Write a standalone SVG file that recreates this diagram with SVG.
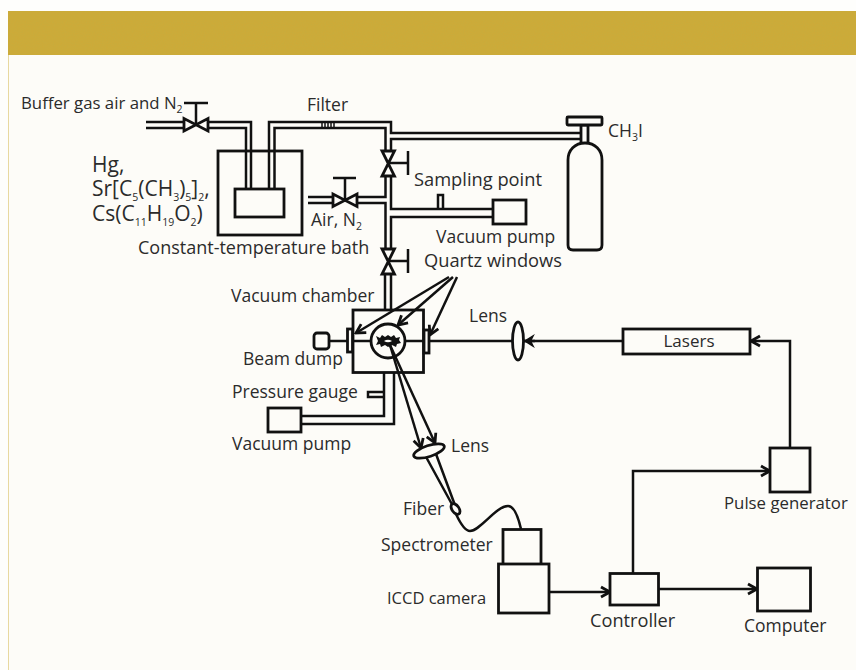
<svg xmlns="http://www.w3.org/2000/svg" width="856" height="670" viewBox="0 0 856 670">
<defs>
<style>
.l{fill:none;stroke:#111;stroke-width:2.500;stroke-linejoin:miter}
.b{fill:#fdfcf8;stroke:#111;stroke-width:2.800}
.t{font-family:"Open Sans","Noto Sans","Liberation Sans",sans-serif;font-size:17.500px;fill:#2b2b2b}
.big{font-size:21px}
.s{font-size:10.500px}
</style>
<filter id="grain" x="0" y="0" width="100%" height="100%"><feTurbulence type="fractalNoise" baseFrequency="0.9" numOctaves="2" seed="4"/><feColorMatrix values="0 0 0 0 0.55  0 0 0 0 0.42  0 0 0 0 0.05  0.9 0 0 0 -0.25"/></filter>
<marker id="a" markerUnits="userSpaceOnUse" viewBox="-11 -7 13 14" refX="0" refY="0" markerWidth="13" markerHeight="14" orient="auto"><path d="M-9,-5 L0,0 L-9,5" fill="none" stroke="#111" stroke-width="2.800"/></marker>
<marker id="f" markerUnits="userSpaceOnUse" viewBox="-11 -7 13 14" refX="0" refY="0" markerWidth="13" markerHeight="14" orient="auto"><path d="M-9,-5 L-1,0 L-9,5 L-6.500,0 Z" fill="#111" stroke="#111" stroke-width="1.500"/></marker>
</defs>
<rect width="856" height="670" fill="#fefefc"/>
<rect x="8" y="55" width="848" height="615" fill="#fdfcf8"/>
<rect x="8" y="55" width="1" height="615" fill="#e8d9a0"/>
<g id="header"><rect x="8" y="11" width="848" height="44" fill="#cdaa38"/><rect x="8" y="11" width="848" height="44" filter="url(#grain)"/></g>
<g id="connectors">
<path class="l" d="M146,122H184M208,122H251V189M146,128H184M208,128H246V189"/>
<path class="l" d="M269,189V122H391V133H580M274.500,189V128H385.500V151M391,151V139H580"/>
<path class="l" d="M308,197H333M357,197H385.500V176M308,203H333M357,203H385.500V249M391,176V209H493M391,249V217H493"/>
<path class="l" d="M385,274V310M391,274V310"/>
<path class="l" d="M384,373V416H301M394,373V424H301"/>
<path class="l" d="M384,392H368V397H384"/>
<path class="l" d="M438,209V195H443V209"/>
<path class="l" d="M330,341H371M405,341H622"/>
<path class="l" marker-end="url(#f)" d="M535,341H524"/>
<path class="l" marker-end="url(#a)" d="M449,277L356,333"/>
<path class="l" marker-end="url(#a)" d="M453,277L398,325"/>
<path class="l" marker-end="url(#a)" d="M457,277L430,335"/>
<path class="l" d="M456,514C462,527 466,531 470,531C480,531 496,506 508,506C514,506 518,516 521,529"/>
<path class="l" marker-end="url(#a)" d="M549,592H610"/>
<path class="l" marker-end="url(#a)" d="M633,573V471H770"/>
<path class="l" marker-end="url(#a)" d="M658,589H757"/>
<path class="l" marker-end="url(#a)" d="M790,448V341H751"/>
</g>
<g id="valve-buffer">
<path class="l" d="M196,125V103M184,103H208"/>
<path class="b" d="M184,118.500V131L208,118.500V131Z"/>
</g>
<g id="valve-air">
<path class="l" d="M345,200V178M333,178H356"/>
<path class="b" d="M333,194V206.500L357,194V206.500Z"/>
</g>
<g id="valve-sampling">
<path class="l" d="M388,163H408M408,151V175"/>
<path class="b" d="M382,151H394.500L382,176H394.500Z"/>
</g>
<g id="valve-chamber">
<path class="l" d="M388,261H408M408,249V273"/>
<path class="b" d="M382,249H394.500L382,274H394.500Z"/>
</g>
<g id="filter"><path class="l" d="M320,122H336M320,128H336M322,122V128M325,122V128M328,122V128M331,122V128M334,122V128" style="stroke-width:1.500"/></g>
<g id="bath">
<rect class="l" style="stroke-width:2.800" x="218" y="151" width="84" height="84"/>
<rect class="l" style="stroke-width:2.800" x="235" y="189" width="49" height="28"/>
</g>
<g id="cylinder">
<rect class="b" x="581" y="125" width="7" height="19"/>
<rect class="b" x="567" y="117" width="35" height="8" rx="1"/>
<path class="b" d="M568,160C568,150 575,143 585,143C595,143 602,150 602,160V245Q602,250 597,250H573Q568,250 568,245Z"/>
</g>
<g id="pump-top"><rect class="b" x="493" y="200" width="33" height="24"/></g>
<g id="chamber">
<rect class="l" style="stroke-width:2.800" x="353" y="310" width="70.500" height="62.500"/>
<rect class="b" x="347.500" y="329" width="5" height="23"/>
<rect class="b" x="424" y="330" width="5" height="23"/>
<circle class="l" style="stroke-width:2.800" cx="388" cy="341" r="17"/>
<path fill="#111" fill-rule="evenodd" d="M376,336L380,338L382,335L385,337L388,335L391,337L394,335L396,338L400,337L399,340L401,343L397,344L396,347L392,345L388,347L385,345L381,347L380,344L376,345L378,341ZM384,341Q388,338.500 392,341Q388,343.500 384,341Z"/>
</g>
<g id="collection">
<path class="l" marker-end="url(#a)" d="M390,345L421,448"/>
<path class="l" marker-end="url(#a)" d="M390,345L435,443"/>
<path class="l" d="M425,455L454,508M436,454L456,508"/>
</g>
<g id="beam-dump"><rect class="b" x="314" y="333" width="15" height="16" rx="3"/></g>
<g id="pump-bottom"><rect class="b" x="268" y="408" width="33" height="24"/></g>
<g id="lens-laser"><ellipse class="b" cx="518" cy="341" rx="5.500" ry="19"/></g>
<g id="lens-collect"><ellipse class="b" cx="429" cy="451" rx="16" ry="5.500" transform="rotate(-18 429 451)"/></g>
<g id="fiber"><ellipse class="b" cx="455.500" cy="509" rx="3.500" ry="6" transform="rotate(-35 455.500 509)"/></g>
<g id="lasers"><rect class="b" x="623" y="329" width="127" height="25"/><text class="t" x="689" y="347" text-anchor="middle" style="font-size:17px">Lasers</text></g>
<g id="pulse-generator"><rect class="b" x="770" y="448" width="40" height="44"/><text class="t" x="724" y="509" style="font-size:16.800px">Pulse generator</text></g>
<g id="spectrometer"><rect class="b" x="503" y="529.500" width="38" height="35"/><text class="t" x="381" y="551">Spectrometer</text></g>
<g id="iccd"><rect class="b" x="498.500" y="564" width="50.500" height="49"/><text class="t" x="387" y="604" style="font-size:16.500px">ICCD camera</text></g>
<g id="controller"><rect class="b" x="610" y="573.500" width="48.500" height="31.500"/><text class="t" x="590" y="627" style="font-size:18.200px">Controller</text></g>
<g id="computer"><rect class="b" x="757.500" y="568" width="53" height="43"/><text class="t" x="744" y="632">Computer</text></g>
<g id="labels">
<text class="t" x="21" y="109" style="font-size:16.800px">Buffer gas air and N<tspan class="s" dy="4">2</tspan></text>
<text class="t" x="307" y="111">Filter</text>
<text class="t" x="608" y="137">CH<tspan class="s" dy="4">3</tspan><tspan dy="-4">I</tspan></text>
<text class="t big" x="92" y="172">Hg,</text>
<text class="t big" x="92" y="196">Sr[C<tspan class="s" dy="5">5</tspan><tspan dy="-5">(CH</tspan><tspan class="s" dy="5">3</tspan><tspan dy="-5">)</tspan><tspan class="s" dy="5">5</tspan><tspan dy="-5">]</tspan><tspan class="s" dy="5">2</tspan><tspan dy="-5">,</tspan></text>
<text class="t big" x="92" y="221">Cs(C<tspan class="s" dy="5">11</tspan><tspan dy="-5">H</tspan><tspan class="s" dy="5">19</tspan><tspan dy="-5">O</tspan><tspan class="s" dy="5">2</tspan><tspan dy="-5">)</tspan></text>
<text class="t" x="311" y="226">Air, N<tspan class="s" dy="4">2</tspan></text>
<text class="t" x="138" y="254" style="font-size:18px">Constant-temperature bath</text>
<text class="t" x="414" y="186" style="font-size:18.300px">Sampling point</text>
<text class="t" x="436" y="243">Vacuum pump</text>
<text class="t" x="424" y="267" style="font-size:18.300px">Quartz windows</text>
<text class="t" x="231" y="302">Vacuum chamber</text>
<text class="t" x="469" y="322">Lens</text>
<text class="t" x="243" y="365">Beam dump</text>
<text class="t" x="232" y="398">Pressure gauge</text>
<text class="t" x="232" y="450">Vacuum pump</text>
<text class="t" x="451" y="452">Lens</text>
<text class="t" x="403" y="515">Fiber</text>
</g>
</svg>
